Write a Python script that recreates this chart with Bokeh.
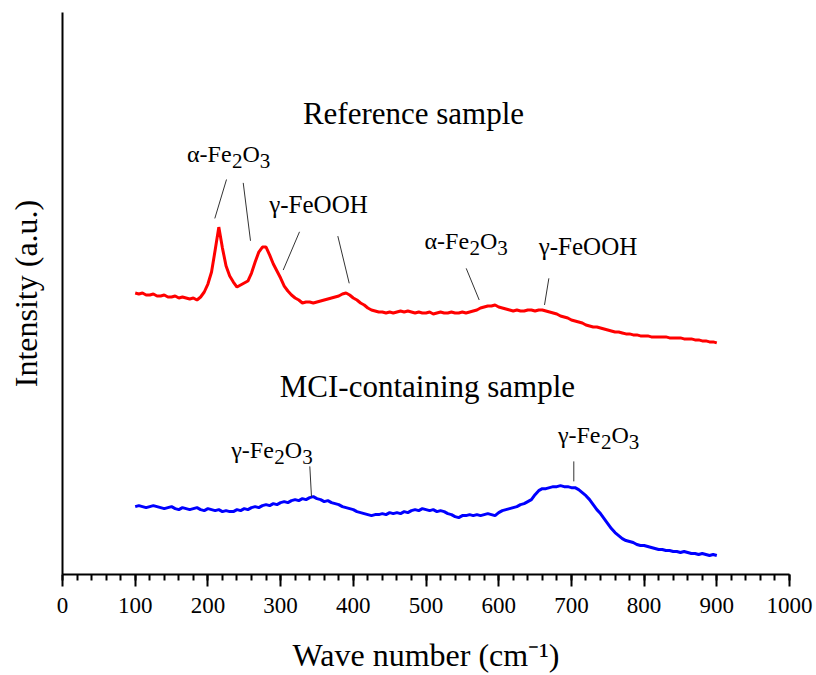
from bokeh.plotting import figure
from bokeh.models import Range1d, SingleIntervalTicker, FixedTicker, Label
from bokeh.embed import file_html
from bokeh.resources import INLINE

# ---------------- data ----------------
wavenumber = list(range(100, 905, 5))

reference_sample = [
    282, 281, 282, 280, 280, 281, 279, 279, 280, 278,   # 100-145
    278, 279, 277, 278, 277, 276, 277, 275, 278, 283,   # 150-195
    291, 303, 325, 348, 327, 309, 299, 293, 288, 290,   # 200-245
    292, 294, 302, 313, 323, 328, 328, 320, 311, 304,   # 250-295
    297, 289, 284, 280, 277, 275, 272, 273, 273, 272,   # 300-345
    273, 274, 275, 276, 277, 278, 279, 281, 282, 280,   # 350-395
    277, 275, 272, 270, 267, 265, 264, 263, 263, 262,   # 400-445
    263, 262, 263, 264, 263, 264, 263, 262, 263, 262,   # 450-495
    262, 263, 261, 262, 263, 262, 262, 263, 262, 262,   # 500-545
    263, 262, 263, 264, 265, 267, 268, 269, 269, 270,   # 550-595
    268, 267, 266, 265, 264, 265, 264, 264, 265, 265,   # 600-645
    264, 265, 265, 264, 263, 262, 261, 259, 258, 257,   # 650-695
    255, 254, 253, 252, 250, 249, 248, 248, 247, 246,   # 700-745
    245, 244, 243, 243, 242, 241, 241, 240, 240, 239,   # 750-795
    239, 239, 238, 238, 238, 238, 238, 237, 237, 237,   # 800-845
    237, 236, 236, 236, 235, 235, 234, 234, 233, 233,   # 850-895
    232,                                                # 900
]

mci_sample = [
    68, 69, 68, 67, 68, 69, 68, 67, 66, 67,   # 100-145
    68, 66, 65, 67, 66, 65, 66, 67, 65, 64,   # 150-195
    66, 65, 64, 65, 63, 64, 63, 63, 65, 64,   # 200-245
    66, 65, 67, 68, 67, 69, 70, 69, 71, 70,   # 250-295
    72, 73, 72, 74, 75, 74, 76, 75, 77, 78,   # 300-345
    76, 75, 73, 74, 72, 71, 70, 68, 67, 66,   # 350-395
    65, 63, 62, 61, 60, 59, 60, 60, 61, 60,   # 400-445
    62, 61, 62, 61, 63, 62, 64, 65, 64, 66,   # 450-495
    65, 64, 65, 63, 64, 63, 61, 60, 58, 57,   # 500-545
    59, 59, 60, 59, 60, 59, 60, 61, 60, 59,   # 550-595
    62, 64, 65, 66, 67, 68, 70, 71, 73, 75,   # 600-645
    80, 84, 86, 86, 87, 88, 88, 89, 88, 88,   # 650-695
    87, 87, 85, 82, 79, 75, 70, 65, 61, 56,   # 700-745
    51, 46, 42, 39, 36, 34, 33, 32, 30, 29,   # 750-795
    29, 28, 27, 26, 25, 25, 24, 24, 23, 23,   # 800-845
    22, 23, 22, 21, 21, 20, 21, 20, 19, 20,   # 850-895
    19,                                       # 900
]

x_ticks_interval = 100

# pointer lines (x0, y0) -> (x1, y1) in data units
pointer_x0 = [209.5, 248.6, 326.0, 378.7, 555.3, 669.0, 340.2, 703.3]
pointer_y0 = [356.7, 392.3, 343.3, 339.0, 306.7, 296.7, 108.3, 113.3]
pointer_x1 = [225.6, 258.6, 303.6, 394.4, 573.2, 663.0, 342.5, 703.3]
pointer_y1 = [395.7, 334.3, 305.0, 291.7, 275.0, 270.0, 77.7, 93.3]

FONT = "Liberation Serif"

p = figure(width=816, height=675,
           x_range=Range1d(0, 1000), y_range=Range1d(0, 563),
           output_backend="svg", toolbar_location=None,
           min_border_left=62, min_border_right=27,
           min_border_top=12, min_border_bottom=100)

p.line(wavenumber, reference_sample, line_color="#ff0000", line_width=3)
p.line(wavenumber, mci_sample, line_color="#0000ff", line_width=3)
p.segment(pointer_x0, pointer_y0, pointer_x1, pointer_y1,
          line_color="#333333", line_width=1)

p.grid.visible = False
p.outline_line_color = None
p.background_fill_color = "white"
p.border_fill_color = "white"

xa = p.xaxis[0]
xa.ticker = SingleIntervalTicker(interval=x_ticks_interval, num_minor_ticks=5)
xa.axis_line_width = 2
xa.axis_line_color = "black"
xa.major_tick_out = 12
xa.major_tick_in = 0
xa.minor_tick_out = 6
xa.minor_tick_in = 0
xa.major_tick_line_width = 2
xa.minor_tick_line_width = 2
xa.major_tick_line_color = "black"
xa.minor_tick_line_color = "black"
xa.major_label_text_font = FONT
xa.major_label_text_font_size = "23px"
xa.major_label_text_color = "black"
xa.major_label_standoff = 11
xa.axis_label = "Wave number (cm\u207b\u00b9)"
xa.axis_label_text_font = FONT
xa.axis_label_text_font_size = "32px"
xa.axis_label_text_font_style = "normal"
xa.axis_label_text_color = "black"
xa.axis_label_standoff = 21

ya = p.yaxis[0]
ya.ticker = FixedTicker(ticks=[])
ya.axis_line_width = 2
ya.axis_line_color = "black"
ya.major_tick_out = 0
ya.major_tick_in = 0
ya.minor_tick_out = 0
ya.minor_tick_in = 0
ya.axis_label = "Intensity (a.u.)"
ya.axis_label_text_font = FONT
ya.axis_label_text_font_size = "32px"
ya.axis_label_text_font_style = "normal"
ya.axis_label_text_color = "black"
ya.axis_label_standoff = 19


def lab(x, y, text, size=24, align="left", xo=0):
    # Bokeh places the bottom of the text box at y; lift to the baseline
    p.add_layout(Label(x=x, y=y + 0.33 * size, text=text, text_font=FONT,
                       text_font_size=f"{size}px", text_color="black",
                       text_align=align, text_baseline="alphabetic",
                       x_offset=xo))


def formula(x, y, head, size=24, sub=21, drop=7):
    # head + subscript "2" + "O" + subscript "3"
    lab(x, y, head, size, "right")
    w2 = 0.5 * sub
    wO = 0.722 * size
    lab(x, y - drop + 0.33 * (size - sub), "2", sub, "left", 0.5)
    lab(x, y, "O", size, "left", w2 + 0.5)
    lab(x, y - drop + 0.33 * (size - sub), "3", sub, "left", w2 + wO + 0.5)


formula(232.5, 413, "α-Fe")
lab(352.1, 362, "γ-FeOOH", 25, "center")
formula(559.2, 325.7, "α-Fe")
lab(722.8, 320, "γ-FeOOH", 25, "center")
formula(290.7, 116.7, "γ-Fe")
formula(740.0, 131.7, "γ-Fe")

lab(482.8, 451.7, "Reference sample", 31, "center")
lab(502.0, 178.3, "MCI-containing sample", 31, "center")

open("out.html", "w").write(file_html(p, INLINE))
